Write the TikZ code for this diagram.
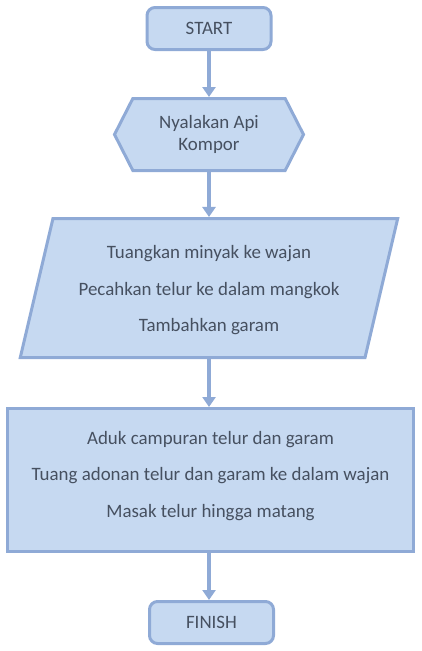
\documentclass[tikz,border=0pt]{standalone}
\usepackage{fontspec}
\setmainfont{Carlito}
\usepackage{xcolor}
\usetikzlibrary{positioning, shapes.geometric, shapes.symbols, arrows.meta}
\definecolor{box-blue}{HTML}{C6D9F1}
\definecolor{line-blue}{HTML}{8FAAD6}
\definecolor{text-grey}{HTML}{465060}
\newcommand{\steplines}[2]{\raisebox{#1}[\height][\depth]{\begin{tabular}{@{}c@{}}#2\end{tabular}}}

\begin{document}
\begin{tikzpicture}[x=1pt, y=-1pt]
				\tikzset{base/.style={draw=line-blue, line width=3pt, fill=box-blue, text=text-grey, align=center, inner sep=0pt, font=\fontsize{18.9}{36.5}\selectfont}}
				\tikzset{term/.style={base, rectangle, rounded corners=8pt, minimum width=124pt, minimum height=42pt}}
				\tikzset{hexa/.style={base, signal, signal to=west and east, signal pointer angle=126, minimum width=189pt, minimum height=72pt, font=\fontsize{18.9}{22.5}\selectfont}}
				\tikzset{iobox/.style={base, trapezium, trapezium left angle=76, trapezium right angle=104, trapezium stretches=true, minimum width=379pt, minimum height=139pt}}
				\tikzset{proc/.style={base, rectangle, minimum width=406pt, minimum height=143pt}}
				\tikzset{arr/.style={-{Triangle[width=13pt, length=10pt]}, line width=4pt, draw=line-blue}}
				
				\useasboundingbox (0,0) rectangle (421,651);
				
				\node[term] (start) at (209,28.5) {START};
				\node[hexa] (fire) at (209,134.5) {Nyalakan Api\\Kompor};
				\node[iobox] (prep) at (209,288) {\steplines{0pt}{Tuangkan minyak ke wajan\\Pecahkan telur ke dalam mangkok\\Tambahkan garam}};
				\node[proc] (cook) at (210.5,480) {\steplines{6.5pt}{Aduk campuran telur dan garam\\Tuang adonan telur dan garam ke dalam wajan\\Masak telur hingga matang}};
				\node[term] (finish) at (211.5,622.5) {FINISH};
				
				\draw[arr] (start.south) -- (start.south |- fire.north);
				\draw[arr] (fire.south) -- (fire.south |- prep.north);
				\draw[arr] (prep.south) -- (prep.south |- cook.north);
				\draw[arr] (cook.south -| prep.south) -- (prep.south |- finish.north);
			\end{tikzpicture}
\end{document}
